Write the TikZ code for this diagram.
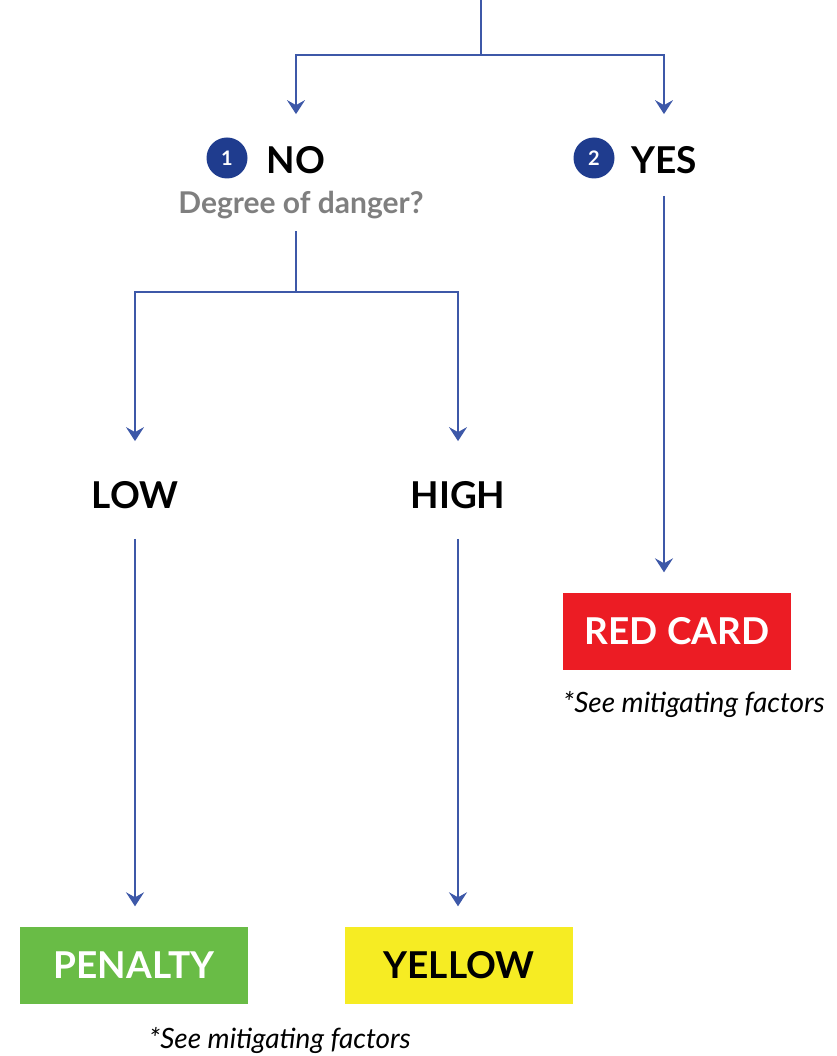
\documentclass[tikz,border=0pt]{standalone}
\usepackage{fontspec}
\setmainfont{Lato}
\usetikzlibrary{arrows.meta}
\definecolor{flowblue}{HTML}{3D58A8}
\definecolor{numblue}{HTML}{1F3C8E}
\definecolor{cardred}{HTML}{EC1C24}
\definecolor{cardgreen}{HTML}{69BC46}
\definecolor{cardyellow}{HTML}{F6EC23}
\definecolor{askgray}{HTML}{7F7F7F}
\begin{document}
\begin{tikzpicture}[x=1pt,y=-1pt,
  line/.style={draw=flowblue,line width=1.9pt},
  arr/.style={line,-{Stealth[length=14pt,width=18pt,inset=5pt]}},
  answer/.style={font=\bfseries\fontsize{37}{37}\selectfont,inner sep=0pt},
  num/.style={circle,fill=numblue,text=white,minimum size=41pt,inner sep=0pt,
    font=\bfseries\fontsize{20}{20}\selectfont},
  card/.style={minimum width=228pt,minimum height=77pt,inner sep=0pt,
    font=\bfseries\fontsize{37}{37}\selectfont},
  note/.style={font=\itshape\fontsize{28}{28}\selectfont,inner sep=0pt}]
\useasboundingbox (0,0) rectangle (836,1056);
% top split
\coordinate (top) at (481,0);
\coordinate (split) at (481,55);
\node[answer] (no) at (296,160) {NO};
\node[num] (n1) at (227,158) {1};
\node[answer] (yes) at (664,160) {YES};
\node[num] (n2) at (594,158) {2};
\node[inner sep=0pt,text=askgray,font=\bfseries\fontsize{30}{30}\selectfont] (danger) at (301,205) {Degree of danger?};
% second split
\coordinate (fork) at (296,292);
\node[answer] (low) at (135,495) {LOW};
\node[answer] (high) at (458,495) {HIGH};
% outcomes
\node[card,fill=cardred,text=white] (red) at (677,631) {RED CARD};
\node[note,anchor=west] (rednote) at (563,705) {*See mitigating factors};
\node[card,fill=cardgreen,text=white] (penalty) at (134,965) {PENALTY};
\node[card,fill=cardyellow,text=black] (yellow) at (459,965) {YELLOW};
\node[note] (bottomnote) at (280,1040) {*See mitigating factors};
\draw[line] (top) -- (split);
\draw[arr,shorten >=32pt] (split) -| (no.north);
\draw[arr,shorten >=32pt] (split) -| (yes.north);
\draw[line,shorten <=12pt] (fork |- danger.south) -- (fork);
\draw[arr,shorten >=40pt] (fork) -| (low.north);
\draw[arr,shorten >=40pt] (fork) -| (high.north);
\draw[arr,shorten <=22pt,shorten >=20pt] (yes.south) -- (red.north -| yes.south);
\draw[arr,shorten <=30pt,shorten >=20pt] (low.south) -- (low.south |- penalty.north);
\draw[arr,shorten <=30pt,shorten >=20pt] (high.south) -- (high.south |- yellow.north);
\end{tikzpicture}
\end{document}
